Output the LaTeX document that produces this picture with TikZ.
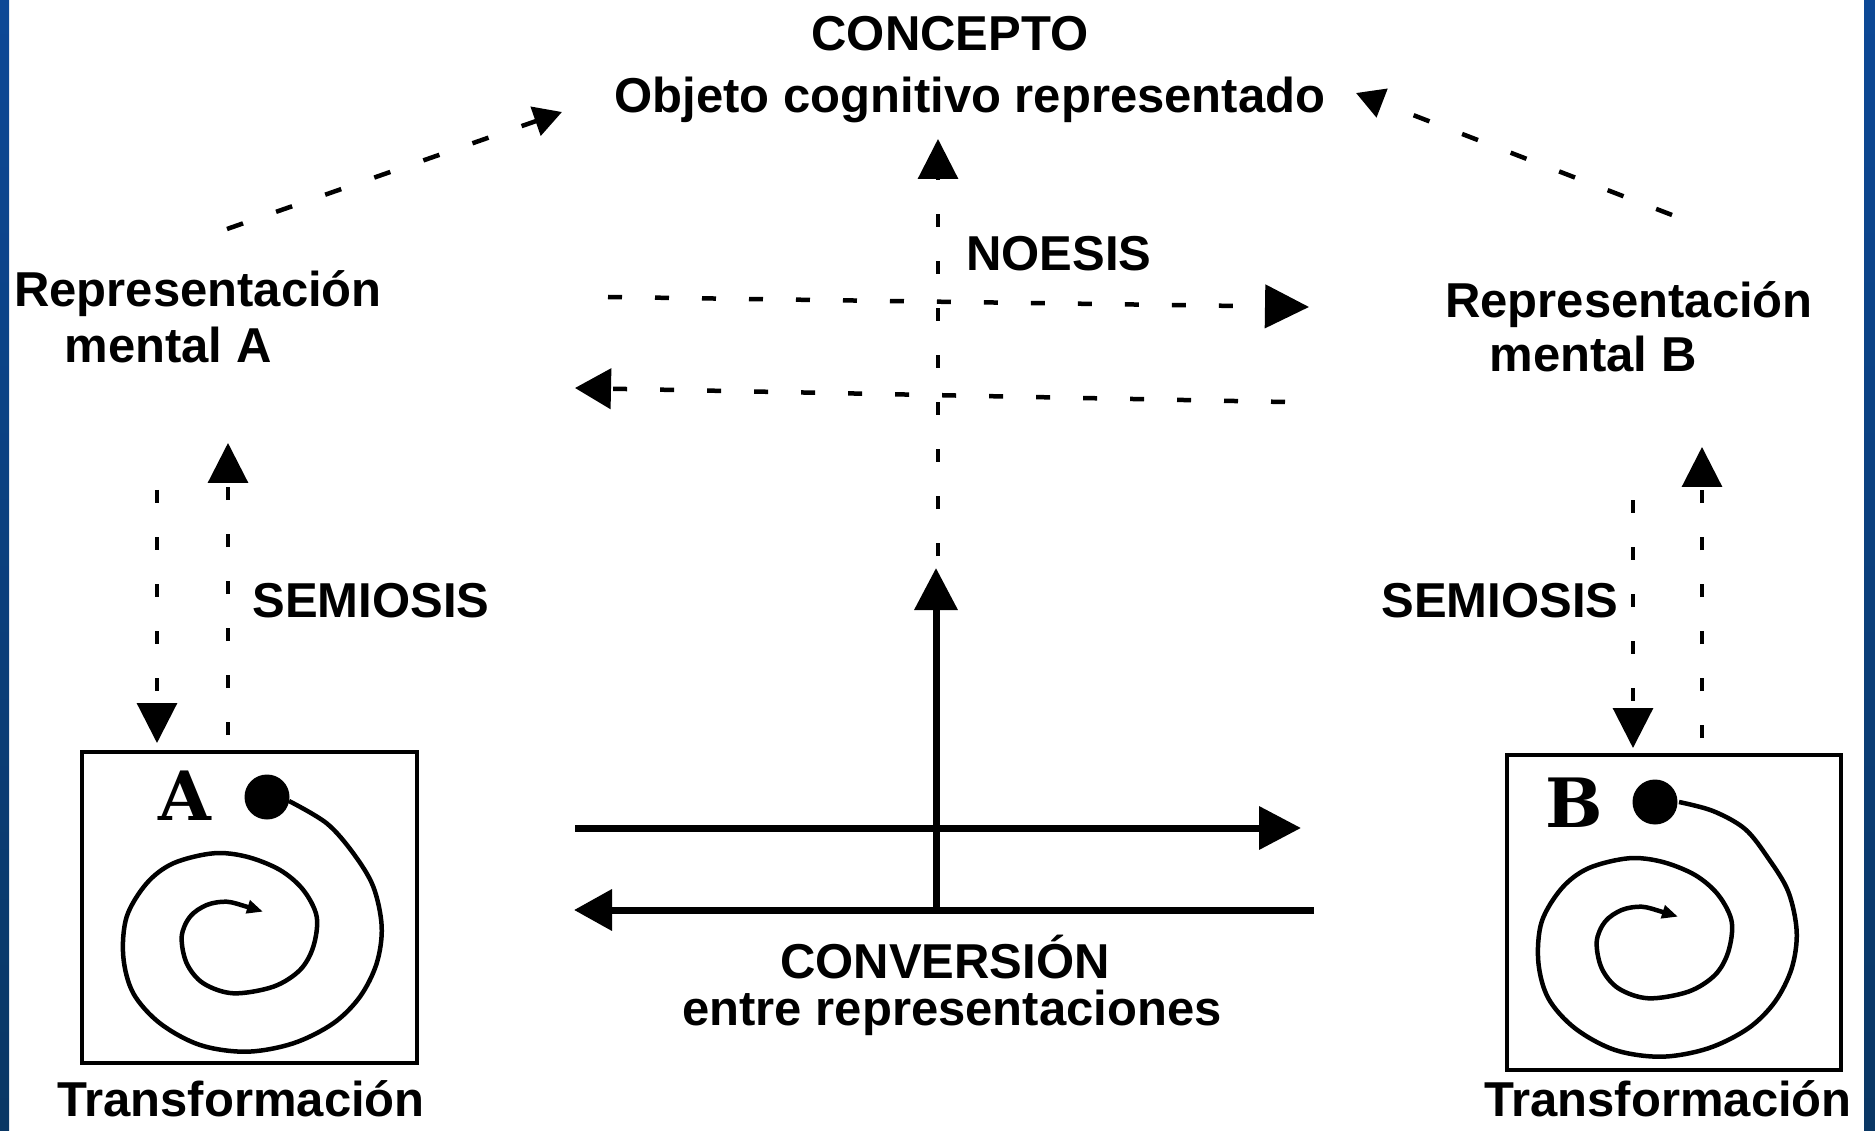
\documentclass[tikz,border=0pt]{standalone}
\usepackage{fontspec}
\setmainfont{Liberation Sans}
\newfontfamily\slabfont{DejaVu Serif}
\usetikzlibrary{arrows.meta}
\definecolor{bluetop}{RGB}{12,72,150}
\definecolor{bluebot}{RGB}{10,55,100}
\tikzset{
  txt/.style={font=\bfseries\fontsize{49}{58}\selectfont, inner sep=0pt, anchor=base},
  letterst/.style={font=\slabfont\bfseries\fontsize{68}{70}\selectfont, inner sep=0pt, anchor=base},
  solidarr/.style={line width=7pt, -{Triangle[length=42pt,width=42pt]}},
  dasharr/.style={line width=4.5pt, dash pattern=on 14pt off 33pt, -{Triangle[length=40pt,width=40pt]}},
  thinarr/.style={line width=3.2pt, dash pattern=on 13pt off 34pt, -{Triangle[length=40pt,width=40pt]}},
  diagarr/.style={line width=4.5pt, dash pattern=on 17pt off 35pt, -{Triangle[length=28pt,width=30pt]}},
  boxst/.style={draw, line width=4.5pt, inner sep=0pt},
  dotst/.style={circle, fill, inner sep=0pt, minimum size=45pt},
  spiralline/.style={line width=4.5pt, line join=round, -{Triangle[length=16pt,width=13pt]}}
}
\newcommand\drawspiral[1]{\draw[spiralline] plot[smooth,tension=0.55] coordinates {#1 (353.3,853.3) (373.3,886.7) (381.7,926.7) (376.7,963.3) (360,996.7) (333.3,1023.3) (293.3,1043.3) (246.7,1051.7) (200,1045) (160,1023.3) (133.3,993.3) (123.3,956.7) (126.7,916.7) (146.7,883.3) (173.3,863.3) (213.3,853.3) (246.7,856.7) (280,870) (303.3,890) (316.7,916.7) (313.3,946.7) (300,970) (273.3,986.7) (233.3,993.3) (203.3,983.3) (186.7,963.3) (181.7,936.7) (190,916.7) (206.7,905) (226.7,901.7) (246.7,906.7) (263,911.7)};}
\begin{document}
\begin{tikzpicture}[x=1pt,y=-1pt]
\useasboundingbox (0,0) rectangle (1875,1131);
\fill[white] (0,0) rectangle (1875,1131);
\shade[top color=bluetop, bottom color=bluebot] (0,0) rectangle (9,1131);
\shade[top color=bluetop, bottom color=bluebot] (1864,0) rectangle (1875,1131);

% texts
\node[txt] (concepto) at (950,51) {CONCEPTO};
\node[txt] (objeto) at (970,113) {Objeto cognitivo representado};
\node[txt] (noesis) at (1059,271) {NOESIS};
\node[txt] (repA) at (198,307) {Representación};
\node[txt] (mentA) at (168,363) {mental A};
\node[txt] (repB) at (1629,318) {Representación};
\node[txt] (mentB) at (1593,372) {mental B};
\node[txt] (semA) at (371,617) {SEMIOSIS};
\node[txt] (semB) at (1500,617) {SEMIOSIS};
\node[txt] (conv) at (945,978) {CONVERSIÓN};
\node[txt] (entre) at (952,1025) {entre representaciones};
\node[txt] (transA) at (241,1116) {Transformación};
\node[txt] (transB) at (1668,1116) {Transformación};

% boxes
\node[boxst, minimum width=335pt, minimum height=311pt] (boxA) at (249.5,907.5) {};
\node[boxst, minimum width=334pt, minimum height=315pt] (boxB) at (1674,912.5) {};
\node[letterst] (letA) at (185,820) {A};
\node[letterst] (letB) at (1574,827) {B};
\node[dotst] (dotA) at (267,797) {};
\node[dotst] (dotB) at (1655,802) {};
\drawspiral{(289,801) (326.7,823.3)}
\begin{scope}[shift={(1415,5)}]
\drawspiral{(264,797) (298,806) (330,824)}
\end{scope}

% coordinates
\coordinate (hu1) at (575,828);
\coordinate (hu2) at (1301,828);
\coordinate (hl1) at (1314,910);
\coordinate (hl2) at (574,910);
\coordinate (vs1) at (936,910);
\coordinate (vs2) at (936,568);
\coordinate (nv1) at (938,556);
\coordinate (nv2) at (938,139);
\coordinate (nr1) at (608,297);
\coordinate (nr2) at (1309,307);
\coordinate (nl1) at (1285,402);
\coordinate (nl2) at (575,388);
\coordinate (tl1) at (227,229);
\coordinate (tl2) at (562,112);
\coordinate (tr1) at (1672,215);
\coordinate (tr2) at (1356,93);
\coordinate (sad1) at (157,490);
\coordinate (sad2) at (157,743);
\coordinate (sau1) at (228,735);
\coordinate (sau2) at (228,443);
\coordinate (sbd1) at (1633,500);
\coordinate (sbd2) at (1633,748);
\coordinate (sbu1) at (1702,738);
\coordinate (sbu2) at (1702,447);

% solid conversion arrows
\draw[solidarr] (hu1) -- (hu2);
\draw[solidarr, -{Triangle[length=38pt,width=40pt]}] (hl1) -- (hl2);
\draw[solidarr, line cap=butt] (vs1) -- (vs2);

% noesis dashed arrows
\draw[thinarr] (nv1) -- (nv2);
\draw[dasharr, -{Triangle[length=44pt,width=43pt]}] (nr1) -- (nr2);
\draw[dasharr, -{Triangle[length=36pt,width=40pt]}] (nl1) -- (nl2);
\draw[diagarr] (tl1) -- (tl2);
\draw[diagarr] (tr1) -- (tr2);

% semiosis
\draw[thinarr] (sad1) -- (sad2);
\draw[thinarr] (sau1) -- (sau2);
\draw[thinarr] (sbd1) -- (sbd2);
\draw[thinarr] (sbu1) -- (sbu2);
\end{tikzpicture}
\end{document}
